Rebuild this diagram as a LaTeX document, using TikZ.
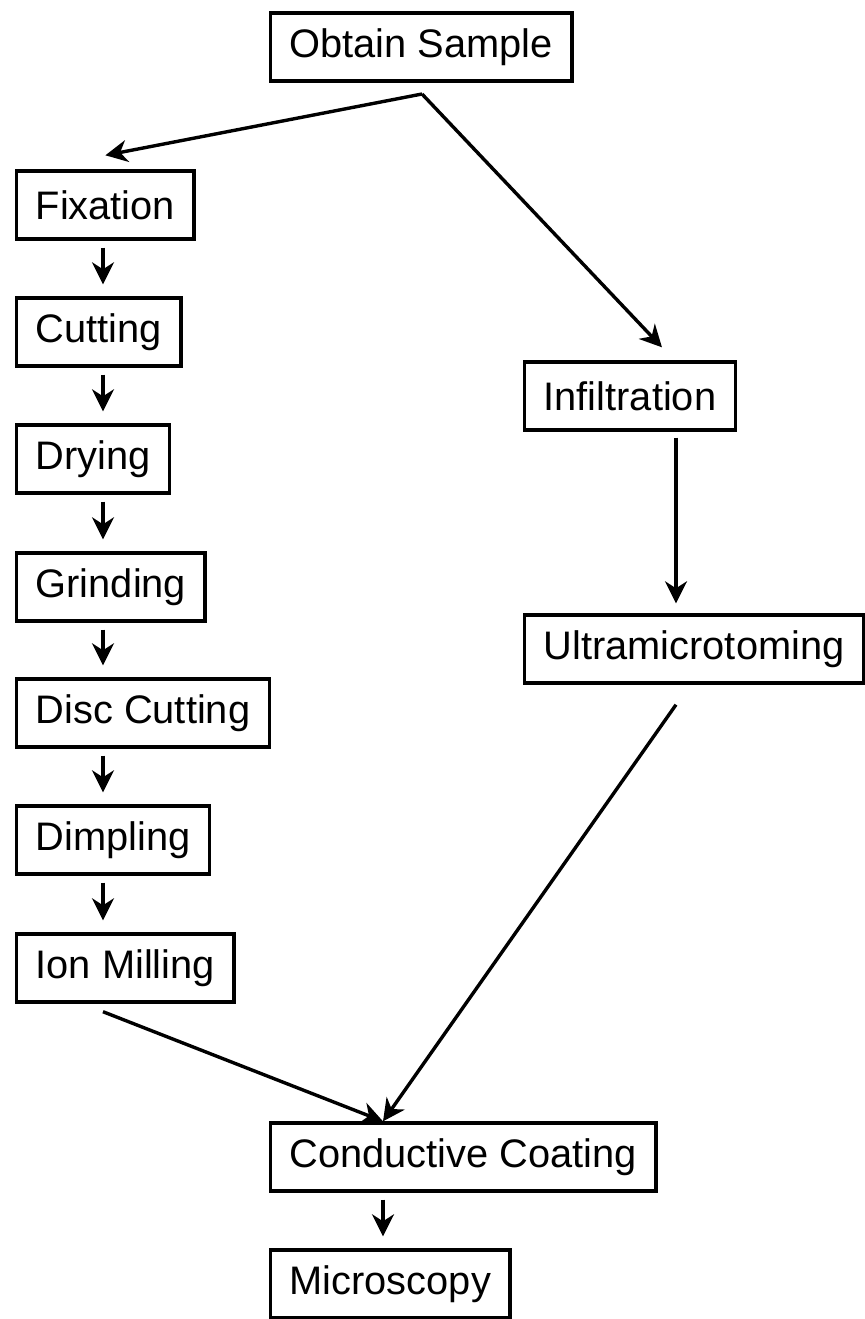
\documentclass[tikz,border=0pt]{standalone}
\usepackage{fontspec}
\setmainfont{Liberation Sans}
\usetikzlibrary{arrows.meta,positioning}

\begin{document}
\begin{tikzpicture}[x=0.5pt, y=-0.5pt, box/.style={draw, line width=1.7pt, anchor=west, minimum height=34pt, inner xsep=9.5pt, font=\fontsize{19.9}{24}\selectfont}, arrow/.style={-{Stealth[length=11pt, width=11pt, inset=3.5pt]}, line width=1.7pt}]
\useasboundingbox (0,0) rectangle (865,1319);
\node[box] (obtain) at (269,47) {Obtain Sample};
\node[box] (fix) at (15,205) {Fixation};
\node[box] (cut) at (15,332) {Cutting};
\node[box] (dry) at (15,459) {Drying};
\node[box] (grind) at (15,587) {Grinding};
\node[box] (disc) at (15,713) {Disc Cutting};
\node[box] (dimp) at (15,840) {Dimpling};
\node[box] (ion) at (15,968) {Ion Milling};
\node[box] (infil) at (523,396) {Infiltration};
\node[box] (ultra) at (523,649) {Ultramicrotoming};
\node[box] (cond) at (269,1157) {Conductive Coating};
\node[box] (micro) at (269,1284) {Microscopy};
\coordinate (split) at (422,94);
\coordinate (lx) at (103,0); \coordinate (rx) at (676,0); \coordinate (cx) at (383,0);
% split below the first box
\draw[arrow] (split) -- ([yshift=7pt]fix.north);
\draw[arrow] (split) -- ([xshift=16pt, yshift=6.5pt]infil.north);
% left column
\foreach \a/\b in {fix/cut, cut/dry, dry/grind, grind/disc, disc/dimp, dimp/ion}
  \draw[arrow, shorten <=3.5pt, shorten >=6pt] (\a.south -| lx) -- (\b.north -| lx);
% right column
\draw[arrow, shorten <=3pt, shorten >=5pt] (infil.south -| rx) -- (ultra.north -| rx);
\draw[arrow] ([yshift=-10pt]ultra.south -| rx) -- (cond.north -| cx);
\draw[arrow] ([yshift=-4pt]ion.south -| lx) -- (cond.north -| cx);
\draw[arrow, shorten <=3.5pt, shorten >=6pt] (cond.south -| cx) -- (micro.north -| cx);
\end{tikzpicture}
\end{document}
